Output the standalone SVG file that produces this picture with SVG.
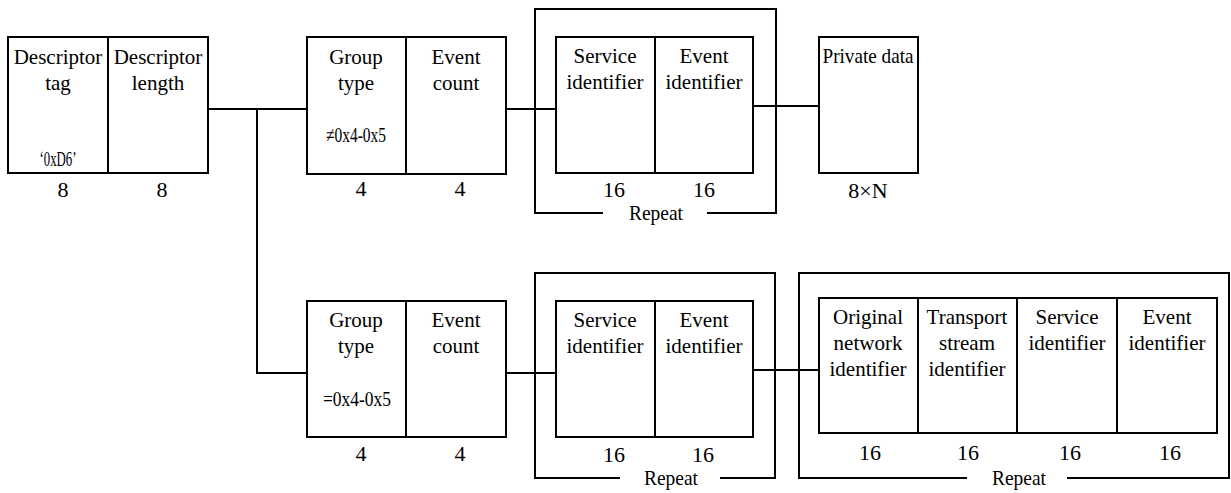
<svg xmlns="http://www.w3.org/2000/svg" width="1231" height="493" viewBox="0 0 1231 493">
<style>
.box{fill:#fff;stroke:#000;stroke-width:2}
.frame{fill:none;stroke:#000;stroke-width:2}
.ln{fill:none;stroke:#000;stroke-width:2}
text{font-size:21px;fill:#000;text-anchor:middle}
.num{font-size:22px}
</style>
<rect width="1231" height="493" fill="#fff"/>
<g id="connectors">
<path class="ln" d="M208,109 H307 M257,109 V373 H307 M506,109 H556 M753,106 H819 M506,373 H556 M753,370 H819"/>
</g>
<g font-family="Liberation Serif, Times New Roman, serif">
<g id="descriptor-tag">
<rect class="box" x="8" y="37" width="100" height="136"/>
<text x="58" y="64">Descriptor</text>
<text x="58" y="90">tag</text>
<text x="58" y="166" textLength="37" lengthAdjust="spacingAndGlyphs">‘0xD6’</text>
<text class="num" x="63" y="197">8</text>
</g>
<g id="descriptor-length">
<rect class="box" x="108" y="37" width="100" height="136"/>
<text x="158" y="64">Descriptor</text>
<text x="158" y="90">length</text>
<text class="num" x="162" y="197">8</text>
</g>
<g id="group-type-1">
<rect class="box" x="307" y="37" width="99" height="137"/>
<text x="356" y="64">Group</text>
<text x="356" y="90">type</text>
<text x="356" y="142" textLength="60" lengthAdjust="spacingAndGlyphs">≠0x4-0x5</text>
<text class="num" x="361" y="196">4</text>
</g>
<g id="event-count-1">
<rect class="box" x="406" y="37" width="100" height="137"/>
<text x="456" y="64">Event</text>
<text x="456" y="90">count</text>
<text class="num" x="460" y="196">4</text>
</g>
<g id="repeat-1">
<path class="frame" d="M603,213 H535 V9 H776 V213 H707"/>
<text x="656" y="220" textLength="54" lengthAdjust="spacingAndGlyphs">Repeat</text>
</g>
<g id="service-id-1">
<rect class="box" x="556" y="37" width="99" height="136"/>
<text x="605" y="63">Service</text>
<text x="605" y="89">identifier</text>
<text class="num" x="614" y="197">16</text>
</g>
<g id="event-id-1">
<rect class="box" x="655" y="37" width="98" height="136"/>
<text x="704" y="63">Event</text>
<text x="704" y="89">identifier</text>
<text class="num" x="704" y="197">16</text>
</g>
<g id="private-data">
<rect class="box" x="819" y="37" width="99" height="136"/>
<text x="868" y="63" textLength="91" lengthAdjust="spacingAndGlyphs">Private data</text>
<text class="num" x="868" y="198">8×N</text>
</g>
<g id="group-type-2">
<rect class="box" x="307" y="301" width="99" height="136"/>
<text x="356" y="327">Group</text>
<text x="356" y="353">type</text>
<text x="357" y="406" textLength="68" lengthAdjust="spacingAndGlyphs">=0x4-0x5</text>
<text class="num" x="361" y="461">4</text>
</g>
<g id="event-count-2">
<rect class="box" x="406" y="301" width="100" height="136"/>
<text x="456" y="327">Event</text>
<text x="456" y="353">count</text>
<text class="num" x="460" y="461">4</text>
</g>
<g id="repeat-2">
<path class="frame" d="M620,478 H535 V273 H775 V478 H720"/>
<text x="671" y="485" textLength="54" lengthAdjust="spacingAndGlyphs">Repeat</text>
</g>
<g id="service-id-2">
<rect class="box" x="556" y="301" width="99" height="136"/>
<text x="605" y="327">Service</text>
<text x="605" y="353">identifier</text>
<text class="num" x="614" y="462">16</text>
</g>
<g id="event-id-2">
<rect class="box" x="655" y="301" width="98" height="136"/>
<text x="704" y="327">Event</text>
<text x="704" y="353">identifier</text>
<text class="num" x="703" y="462">16</text>
</g>
<g id="repeat-3">
<path class="frame" d="M967,478 H799 V273 H1229 V478 H1067"/>
<text x="1019" y="485" textLength="54" lengthAdjust="spacingAndGlyphs">Repeat</text>
</g>
<g id="original-network-id">
<rect class="box" x="819" y="298" width="99" height="135"/>
<text x="868" y="324">Original</text>
<text x="868" y="350">network</text>
<text x="868" y="376">identifier</text>
<text class="num" x="870" y="460">16</text>
</g>
<g id="transport-stream-id">
<rect class="box" x="918" y="298" width="99" height="135"/>
<text x="967" y="324">Transport</text>
<text x="967" y="350">stream</text>
<text x="967" y="376">identifier</text>
<text class="num" x="968" y="460">16</text>
</g>
<g id="service-id-3">
<rect class="box" x="1017" y="298" width="100" height="135"/>
<text x="1067" y="324">Service</text>
<text x="1067" y="350">identifier</text>
<text class="num" x="1070" y="460">16</text>
</g>
<g id="event-id-3">
<rect class="box" x="1117" y="298" width="100" height="135"/>
<text x="1167" y="324">Event</text>
<text x="1167" y="350">identifier</text>
<text class="num" x="1170" y="460">16</text>
</g>
</g>
</svg>
